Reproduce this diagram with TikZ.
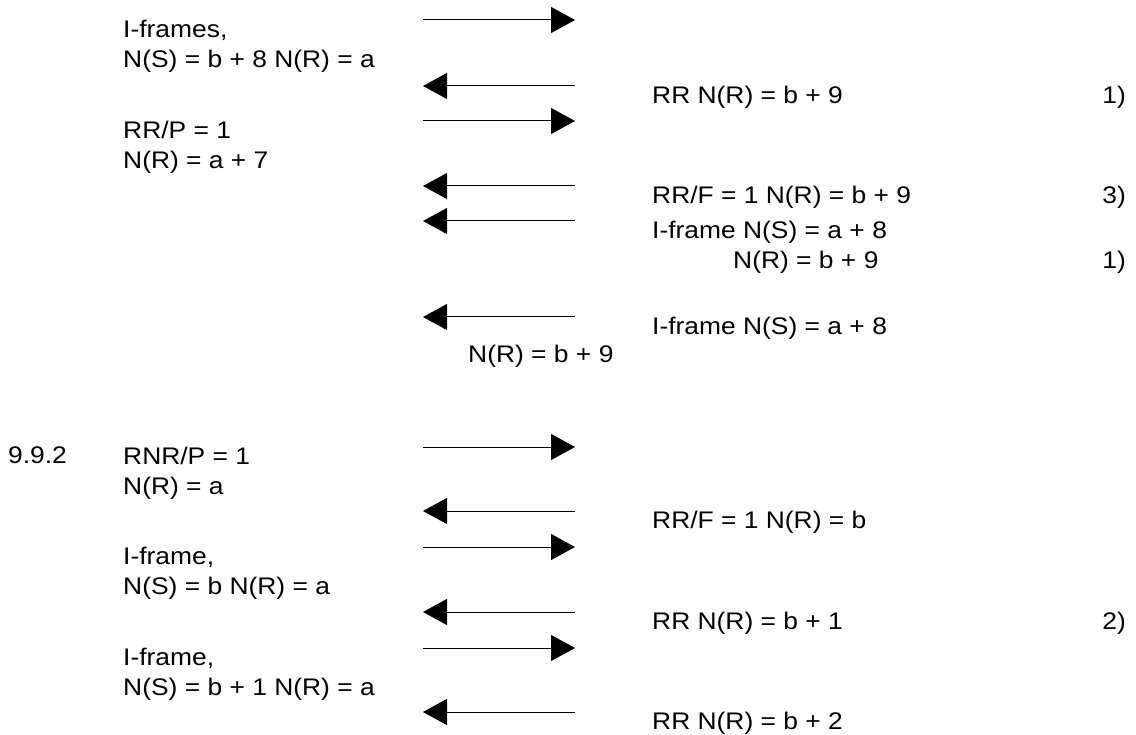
\documentclass[tikz,border=0pt]{standalone}
\usepackage{fontspec}
\setmainfont{Liberation Sans}[FakeStretch=1.1]
\usetikzlibrary{arrows.meta}
\begin{document}
\begin{tikzpicture}[x=1pt,y=-1pt,>={Triangle[length=24pt,width=26pt]},
		msg/.style={line width=1pt,->},
		lbl/.style={anchor=north west,inner sep=0pt,align=left,font=\fontsize{24}{30}\selectfont},
		note/.style={anchor=north east,inner sep=0pt,font=\fontsize{24}{30}\selectfont}]
				\useasboundingbox (0,0) rectangle (1136,735);
				% frames sent to the right
				\foreach \y/\n in {20/s1,121/s2,447/s3,547/s4,648/s5}{
					\coordinate (a\n) at (423,\y);
					\coordinate (b\n) at (575,\y);
					\draw[msg] (a\n)--(b\n);
				}
				% frames sent back to the left
				\foreach \y/\n in {86/r1,186/r2,221/r3,317/r4,511/r5,612/r6,712/r7}{
					\coordinate (a\n) at (423,\y);
					\coordinate (b\n) at (575,\y);
					\draw[msg] (b\n)--(a\n);
				}
				% left column
				\node[lbl] (ifr1) at (123,20) {I-frames,\\N(S) = b + 8 N(R) = a};
				\node[lbl] (rrp) at (123,121) {RR/P = 1\\N(R) = a + 7};
				\node[lbl] (sec) at (8,447) {9.9.2};
				\node[lbl] (rnrp) at (123,447) {RNR/P = 1\\N(R) = a};
				\node[lbl] (ifr2) at (123,547) {I-frame,\\N(S) = b N(R) = a};
				\node[lbl] (ifr3) at (123,648) {I-frame,\\N(S) = b + 1 N(R) = a};
				% right column
				\node[lbl] (rr1) at (652,86) {RR N(R) = b + 9};
				\node[lbl] (rrf1) at (652,186) {RR/F = 1 N(R) = b + 9};
				\node[lbl] (ifr4) at (652,221) {I-frame N(S) = a + 8\\\hspace*{81pt}N(R) = b + 9};
				\node[lbl] (ifr5) at (652,317) {I-frame N(S) = a + 8};
				\node[lbl] (nr) at (468,345) {N(R) = b + 9};
				\node[lbl] (rrf2) at (652,511) {RR/F = 1 N(R) = b};
				\node[lbl] (rr2) at (652,612) {RR N(R) = b + 1};
				\node[lbl] (rr3) at (652,712) {RR N(R) = b + 2};
				% remarks
				\node[note] (n1) at (1126,86) {1)};
				\node[note] (n2) at (1126,186) {3)};
				\node[note] (n3) at (1126,251) {1)};
				\node[note] (n4) at (1126,612) {2)};
		\end{tikzpicture}
\end{document}
